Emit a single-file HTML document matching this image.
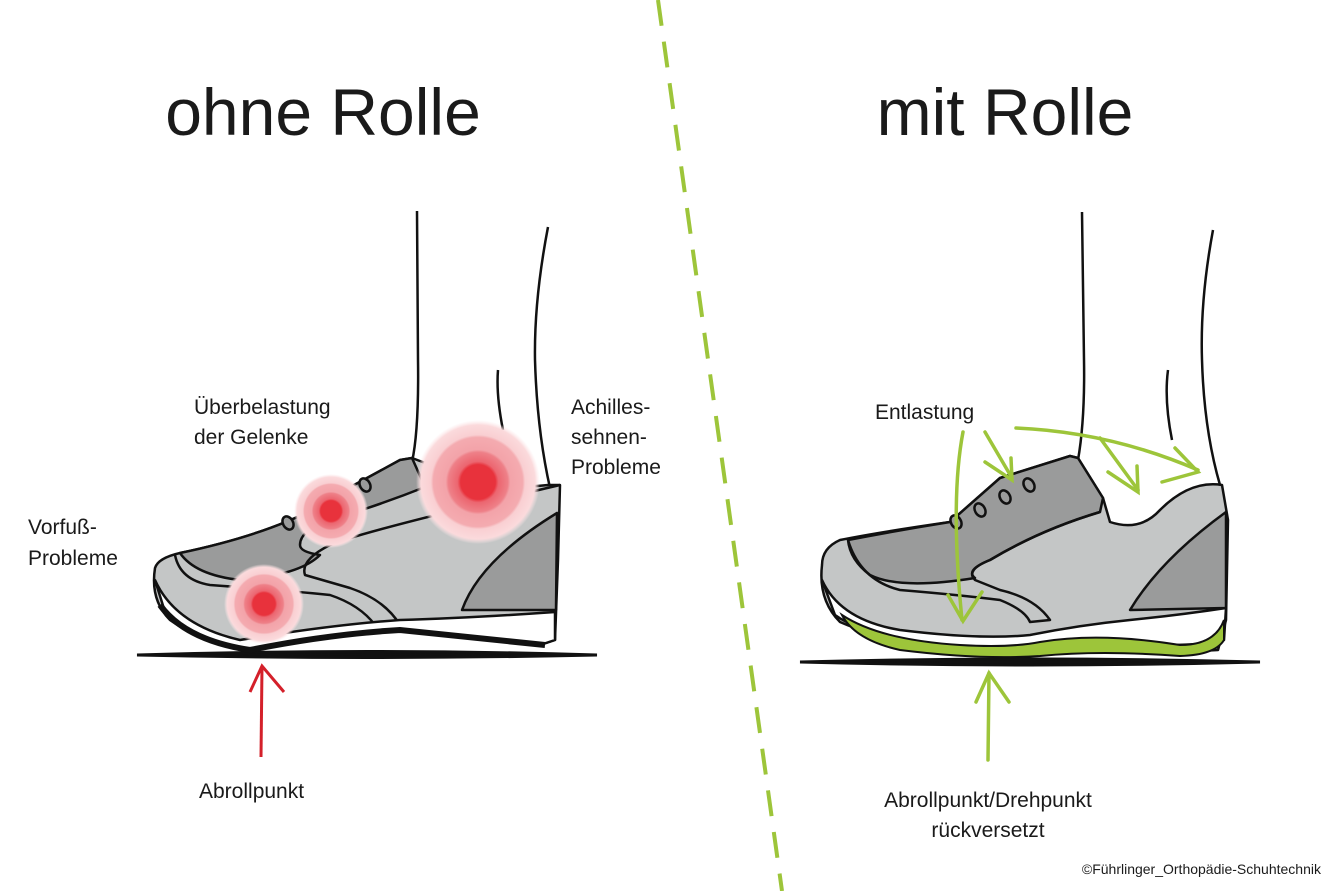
<!DOCTYPE html>
<html><head><meta charset="utf-8"><style>
html,body{margin:0;padding:0;background:#fff}
svg{display:block}
text{font-family:"Liberation Sans","DejaVu Sans",sans-serif;fill:#1a1a1a}
</style></head><body>
<svg width="1336" height="891" viewBox="0 0 1336 891" xmlns="http://www.w3.org/2000/svg">
<defs>
<radialGradient id="blob">
<stop offset="0" stop-color="#e8323c"/>
<stop offset="0.28" stop-color="#e8323c"/>
<stop offset="0.33" stop-color="#ec6670"/>
<stop offset="0.48" stop-color="#ee8088"/>
<stop offset="0.52" stop-color="#f3a3a9"/>
<stop offset="0.72" stop-color="#f4abb0"/>
<stop offset="0.76" stop-color="#f9cfd2"/>
<stop offset="0.92" stop-color="#fbdadc"/>
<stop offset="1" stop-color="#fde8ea" stop-opacity="0"/>
</radialGradient>
</defs>
<rect width="1336" height="891" fill="#fff"/>
<line x1="658" y1="0" x2="782" y2="891" stroke="#9dc53a" stroke-width="4" stroke-dasharray="26,16"/>

<text x="323" y="135" font-size="66" text-anchor="middle">ohne Rolle</text>
<text x="1005" y="135" font-size="66" text-anchor="middle">mit Rolle</text>

<!-- LEFT legs -->
<g fill="none" stroke="#111" stroke-width="2.5">
<path d="M417 211 L418 360 Q419 430 412 462"/>
<path d="M548 227 Q534 300 535 360 Q537 430 550 488"/>
<path d="M498 370 Q496 395 503 430"/>
</g>
<!-- LEFT shoe -->
<path d="M137 655 Q370 648 597 655 Q370 660 137 655Z" fill="#111" stroke="#111" stroke-width="3"/>
<g stroke="#111" stroke-width="2.5" stroke-linejoin="round">
<path d="M155 568 Q150 600 170 620 Q205 645 250 650 Q330 634 400 630 Q460 636 540 645 L555 640 L558 560 L560 485 L548 485 Q500 490 470 480 L412 458 L400 460 L345 490 Q290 530 180 553 Q158 558 155 568Z" fill="#c4c6c6"/>
<path d="M180 553 Q290 530 345 490 L400 460 L412 458 L425 487 Q380 505 330 520 Q300 530 300 545 Q300 552 320 555 Q300 575 240 580 Q195 575 180 553Z" fill="#9a9b9b"/>
<path d="M175 555 Q180 580 210 585 Q280 590 330 595 Q360 605 375 625 L400 625 Q385 600 350 588 L305 575 Q300 560 330 545 Q360 532 560 485" fill="none"/>
<path d="M462 610 Q480 560 557 513 L556 610 Z" fill="#9a9b9b"/>
<path d="M155 580 Q175 625 240 640 Q330 625 400 620 Q470 618 555 612 L555 640 Q540 645 540 645 Q460 636 400 630 Q330 634 250 650 Q195 640 165 612 Z" fill="#fff"/>
<ellipse cx="288" cy="523" rx="5" ry="7" fill="#9a9b9b" transform="rotate(-30 288 523)"/>
<ellipse cx="365" cy="485" rx="5" ry="7" fill="#9a9b9b" transform="rotate(-30 365 485)"/>
</g>
<path d="M160 605 Q185 640 250 650 Q330 634 400 630 Q460 636 545 645" fill="none" stroke="#111" stroke-width="6"/>
<circle cx="478" cy="482" r="62" fill="url(#blob)"/>
<circle cx="331" cy="511" r="37" fill="url(#blob)"/>
<circle cx="264" cy="604" r="40" fill="url(#blob)"/>

<g stroke="#d4202a" stroke-width="3" fill="none">
<line x1="261" y1="757" x2="262" y2="666"/>
<path d="M250 692 L262 666 L284 692"/>
</g>

<text x="194" y="414" font-size="21">Überbelastung</text>
<text x="194" y="444" font-size="21">der Gelenke</text>
<text x="28" y="534" font-size="21">Vorfuß-</text>
<text x="28" y="565" font-size="21">Probleme</text>
<text x="571" y="414" font-size="21">Achilles-</text>
<text x="571" y="444" font-size="21">sehnen-</text>
<text x="571" y="474" font-size="21">Probleme</text>
<text x="199" y="798" font-size="21">Abrollpunkt</text>

<!-- RIGHT legs -->
<g fill="none" stroke="#111" stroke-width="2.5">
<path d="M1082 212 L1084 360 Q1085 420 1078 460"/>
<path d="M1213 230 Q1200 300 1202 360 Q1204 430 1220 485"/>
<path d="M1168 370 Q1164 400 1172 440"/>
</g>
<!-- RIGHT shoe -->
<path d="M800 662 Q1030 656 1260 662 Q1030 668 800 662Z" fill="#111" stroke="#111" stroke-width="3"/>
<g stroke="#111" stroke-width="2.5" stroke-linejoin="round">
<path d="M822 565 Q818 600 840 622 Q880 640 960 648 Q1010 652 1040 645 Q1100 640 1180 652 L1218 650 L1226 620 L1228 520 L1222 485 Q1190 480 1160 510 Q1140 532 1110 522 L1103 498 L1078 458 L1070 456 L1000 478 L950 522 Q880 532 840 540 Q822 548 822 565Z" fill="#c4c6c6"/>
<path d="M848 540 Q900 530 950 522 L1000 478 L1070 456 L1078 458 L1103 498 L1100 512 Q1040 530 990 560 Q965 570 975 578 Q900 590 870 575 Q850 560 848 540Z" fill="#9a9b9b"/>
<path d="M848 540 Q860 580 900 590 Q960 595 1000 600 Q1025 610 1030 622 L1050 620 Q1035 598 1000 590 L975 580 Q965 570 990 560 Q1040 530 1100 512" fill="none"/>
<path d="M1130 610 Q1160 560 1226 512 L1226 608 Z" fill="#9a9b9b"/>
<path d="M822 580 Q840 620 900 630 Q980 640 1030 635 Q1080 625 1130 620 Q1180 615 1226 608 L1224 640 Q1180 650 1100 640 Q1040 650 960 648 Q870 640 835 615 Z" fill="#fff"/>
<ellipse cx="956" cy="522" rx="5" ry="7" fill="#9a9b9b" transform="rotate(-30 956 522)"/>
<ellipse cx="980" cy="510" rx="5" ry="7" fill="#9a9b9b" transform="rotate(-30 980 510)"/>
<ellipse cx="1005" cy="497" rx="5" ry="7" fill="#9a9b9b" transform="rotate(-30 1005 497)"/>
<ellipse cx="1029" cy="485" rx="5" ry="7" fill="#9a9b9b" transform="rotate(-30 1029 485)"/>
</g>
<path d="M842 615 Q880 640 960 645 Q1010 648 1040 642 Q1100 632 1180 645 Q1215 645 1224 620 L1224 640 Q1215 655 1180 656 Q1100 650 1040 656 Q980 660 900 650 Q855 640 842 615Z" fill="#9dc53a" stroke="#111" stroke-width="2"/>

<g stroke="#9dc53a" stroke-width="3.5" fill="none" stroke-linecap="round">
<path d="M963 432 Q950 500 962 620"/>
<path d="M948 595 L963 621 L982 592"/>
<path d="M985 432 L1012 478"/>
<path d="M985 462 L1012 480 L1011 458"/>
<path d="M1016 428 Q1110 432 1198 470"/>
<path d="M1162 482 L1198 472 L1175 448"/>
<path d="M1100 438 L1138 490"/>
<path d="M1108 472 L1138 492 L1137 466"/>
<line x1="988" y1="760" x2="989" y2="673"/>
<path d="M976 702 L989 673 L1009 702"/>
</g>

<text x="875" y="419" font-size="21">Entlastung</text>
<text x="988" y="807" font-size="21" text-anchor="middle">Abrollpunkt/Drehpunkt</text>
<text x="988" y="837" font-size="21" text-anchor="middle">rückversetzt</text>
<text x="1321" y="874" font-size="14" text-anchor="end" fill="#333">©Führlinger_Orthopädie-Schuhtechnik</text>
</svg>
</body></html>
